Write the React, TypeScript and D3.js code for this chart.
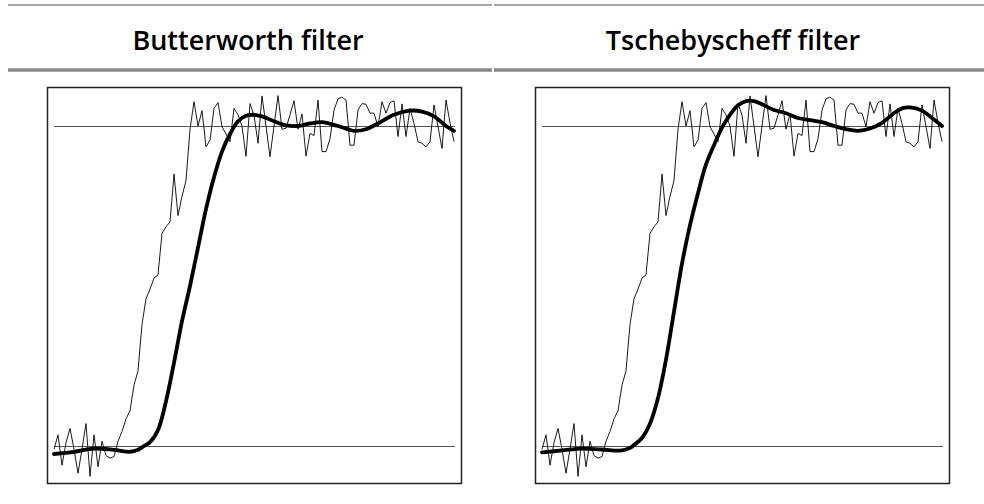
import React from "react";
import * as d3 from "d3";

const titles = ["Butterworth filter", "Tschebyscheff filter"];

// Noisy input signal, one value per sample (0 = low level, 1 = high level)
const noisy = [
  -0.01, 0.035, -0.06, 0.01, 0.055, -0.01, -0.085, -0.01, 0.07, -0.095,
  0.035, -0.065, 0.015, -0.03, -0.038, -0.033, 0.015, 0.045, 0.085, 0.11,
  0.19, 0.235, 0.38, 0.46, 0.49, 0.525, 0.535, 0.665, 0.685, 0.7,
  0.85, 0.72, 0.78, 0.83, 0.99, 1.076, 1.0, 1.048, 0.935, 0.956,
  1.055, 1.073, 0.998, 0.975, 0.951, 1.055, 1.035, 1.0, 0.905, 1.07,
  1.034, 0.946, 1.094, 1.0, 0.904, 1.0, 1.095, 0.99, 0.993, 1.035,
  1.079, 0.99, 1.0375, 0.906, 0.977, 0.97, 1.081, 0.92, 0.92, 0.96,
  1.05, 1.085, 1.09, 1.081, 0.94, 0.94, 1.05, 1.07, 1.068, 1.04,
  1.04, 0.998, 1.076, 1.04, 1.073, 1.079, 0.967, 1.069, 0.967, 1.055,
  1.008, 0.951, 0.946, 0.935, 0.951, 1.066, 0.998, 0.93, 1.081, 1.01,
  0.951,
];

// Butterworth filtered output: sample index -> value
const butterIdx = [0, 5, 10, 15, 19, 21, 22, 24, 26, 28, 30, 32, 34, 36, 38, 40, 42, 44, 46, 48, 50, 52, 55, 58, 61, 64, 67, 71, 75, 78, 81, 85, 89, 92, 95, 98, 100];
const butterVal = [-0.025, -0.018, -0.008, -0.012, -0.018, -0.012, -0.004, 0.012, 0.05, 0.14, 0.26, 0.39, 0.5, 0.62, 0.74, 0.84, 0.92, 0.975, 1.015, 1.032, 1.035, 1.03, 1.015, 1.002, 1.0, 1.008, 1.012, 1.0, 0.985, 0.99, 1.008, 1.035, 1.048, 1.045, 1.03, 1.0, 0.985];

// Tschebyscheff filtered output: sample index -> value
const chebIdx = [0, 5, 10, 15, 20, 22, 23, 25, 27, 29, 31, 33, 35, 37, 39, 41, 43, 45, 47, 49, 51, 53, 55, 58, 61, 64, 67, 70, 73, 76, 79, 82, 85, 88, 90, 92, 95, 98, 100];
const chebVal = [-0.02, -0.014, -0.008, -0.011, -0.014, -0.006, 0.003, 0.025, 0.07, 0.15, 0.27, 0.42, 0.57, 0.69, 0.79, 0.88, 0.94, 0.995, 1.035, 1.065, 1.078, 1.078, 1.068, 1.05, 1.04, 1.025, 1.018, 1.012, 1.0, 0.99, 0.985, 0.992, 1.01, 1.04, 1.055, 1.058, 1.048, 1.02, 1.0];

const W = 984;
const H = 504;

type PanelProps = { ox: number; tx: number; title: string; fIdx: number[]; fVal: number[] };

function Panel({ ox, tx, title, fIdx, fVal }: PanelProps) {
  const x = d3.scaleLinear().domain([0, 100]).range([ox + 54, ox + 454]);
  const y = d3.scaleLinear().domain([0, 1]).range([446, 126]);
  const thin = d3
    .line<number>()
    .x((_, i) => x(i))
    .y((d) => y(d));
  const smooth = d3
    .line<number>()
    .x((_, i) => x(fIdx[i]))
    .y((d) => y(d))
    .curve(d3.curveCatmullRom.alpha(0.5));
  return (
    <g>
      <text
        x={tx}
        y={50}
        textAnchor="middle"
        fontFamily="'Open Sans', 'Noto Sans', sans-serif"
        fontWeight={600}
        fontSize={27}
        fill="#000"
      >
        {title}
      </text>
      <rect x={ox + 47.5} y={87.5} width={414} height={396} fill="#fff" stroke="#222" strokeWidth={1.5} />
      {[0, 1].map((v) => (
        <line key={v} x1={x(0)} x2={x(100) + 1} y1={y(v) + 0.5} y2={y(v) + 0.5} stroke="#555" strokeWidth={1} />
      ))}
      <path d={thin(noisy) || ""} fill="none" stroke="#000" strokeWidth={0.9} strokeLinejoin="miter" />
      <path d={smooth(fVal) || ""} fill="none" stroke="#000" strokeWidth={3.8} strokeLinecap="round" />
    </g>
  );
}

export default function App() {
  return (
    <svg
      width={W}
      height={H}
      viewBox={`0 0 ${W} ${H}`}
      style={{ position: "absolute", left: 0, top: 0, background: "#fff" }}
    >
      <line x1={8} x2={492} y1={5} y2={5} stroke="#a8a8a8" strokeWidth={2} />
      <line x1={494} x2={W} y1={5} y2={5} stroke="#a8a8a8" strokeWidth={2} />
      <line x1={8} x2={492} y1={70} y2={70} stroke="#888" strokeWidth={3.5} />
      <line x1={494} x2={W} y1={70} y2={70} stroke="#888" strokeWidth={3.5} />
      <Panel ox={0} tx={248} title={titles[0]} fIdx={butterIdx} fVal={butterVal} />
      <Panel ox={488} tx={733} title={titles[1]} fIdx={chebIdx} fVal={chebVal} />
    </svg>
  );
}
